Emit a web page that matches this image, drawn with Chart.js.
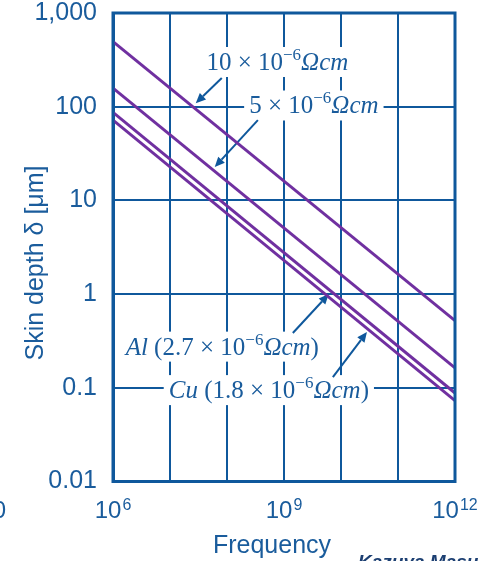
<!DOCTYPE html>
<html>
<head>
<meta charset="utf-8">
<script src="https://cdn.jsdelivr.net/npm/chart.js@4"></script>
<style>
  body { margin: 0; background: #fff; }
  #wrap { width: 499px; height: 561px; position: relative; }
</style>
</head>
<body>
<div id="wrap"><canvas id="skinChart"></canvas></div>
<script>
/* ---------------- DATA ---------------- */
// frequency (Hz) at the two ends of each line
const freqs = [1e6, 1e12];
// skin depth in um read at 1 MHz and 1 THz
const rho10 = [495, 0.52];
const rho5 = [158, 0.163];
const alDepth = [87, 0.088];
const cuDepth = [72, 0.073];

const yTicks = [0.01, 0.1, 1, 10, 100, 1000];
const yTickLabels = ["0.01", "0.1", "1", "10", "100", "1,000"];
const xTicks = [1e6, 1e7, 1e8, 1e9, 1e10, 1e11, 1e12];
const xLabelExps = [6, 9, 12];
const xTitle = "Frequency";
const yTitle = "Skin depth δ [μm]";

const BLUE = "#0f589c";
const TEXT = "#1a5c9c";
const PURPLE = "#7030a0";

/* -------- ANNOTATIONS (anchored in data space) -------- */
// parts: [text, style]  n = upright, i = italic, s = superscript
const notes = [
  {
    parts: [["10 × 10", "n"], ["−6", "s"], ["Ωcm", "i"]],
    at: [7.64e8, 300],
    arrow: [[8.1e7, 202], [2.83e7, 109]]
  },
  {
    parts: [["5 × 10", "n"], ["−6", "s"], ["Ωcm", "i"]],
    at: [3.34e9, 103],
    arrow: [[3.48e8, 72], [6.1e7, 22.7]]
  },
  {
    parts: [["Al", "i"], [" (2.7 × 10", "n"], ["−6", "s"], ["Ωcm", "i"], [")", "n"]],
    at: [8.27e7, 0.275],
    arrow: [[1.43e9, 0.384], [6.1e9, 1.0]]
  },
  {
    parts: [["Cu", "i"], [" (1.8 × 10", "n"], ["−6", "s"], ["Ωcm", "i"], [")", "n"]],
    at: [5.42e8, 0.0945],
    arrow: [[7.2e9, 0.130], [2.85e10, 0.393]]
  }
];

function noteFont(style) {
  if (style === "i") return 'italic 25px "Liberation Serif"';
  if (style === "s") return '17px "Liberation Serif"';
  return '25px "Liberation Serif"';
}

function drawArrow(ctx, x1, y1, x2, y2) {
  const ang = Math.atan2(y2 - y1, x2 - x1);
  const len = 10, half = 4.5;
  const bx = x2 - Math.cos(ang) * len;
  const by = y2 - Math.sin(ang) * len;
  ctx.beginPath();
  ctx.moveTo(x1, y1);
  ctx.lineTo(bx, by);
  ctx.stroke();
  ctx.beginPath();
  ctx.moveTo(x2, y2);
  ctx.lineTo(bx - Math.sin(ang) * half, by + Math.cos(ang) * half);
  ctx.lineTo(bx + Math.sin(ang) * half, by - Math.cos(ang) * half);
  ctx.closePath();
  ctx.fill();
}

const notesPlugin = {
  id: "notes",
  beforeDatasetsDraw(chart) {
    const ctx = chart.ctx;
    const xs = chart.scales.x, ys = chart.scales.y;
    ctx.save();
    notes.forEach(n => {
      const cx = xs.getPixelForValue(n.at[0]);
      const cy = ys.getPixelForValue(n.at[1]);
      let w = 0;
      n.parts.forEach(p => { ctx.font = noteFont(p[1]); w += ctx.measureText(p[0]).width; });
      ctx.fillStyle = "#fff";
      ctx.fillRect(cx - w / 2 - 5, cy - 15, w + 10, 30);

      ctx.fillStyle = TEXT;
      ctx.textBaseline = "alphabetic";
      ctx.textAlign = "left";
      let x = cx - w / 2;
      const base = cy + 8;
      n.parts.forEach(p => {
        ctx.font = noteFont(p[1]);
        ctx.fillText(p[0], x, p[1] === "s" ? base - 10 : base);
        x += ctx.measureText(p[0]).width;
      });

      ctx.strokeStyle = BLUE;
      ctx.fillStyle = BLUE;
      ctx.lineWidth = 2;
      const a = n.arrow;
      drawArrow(ctx,
        xs.getPixelForValue(a[0][0]), ys.getPixelForValue(a[0][1]),
        xs.getPixelForValue(a[1][0]), ys.getPixelForValue(a[1][1]));
    });
    ctx.restore();
  },
  afterDraw(chart) {
    const ctx = chart.ctx;
    const area = chart.chartArea;
    const xs = chart.scales.x;
    ctx.save();
    // frame
    ctx.strokeStyle = BLUE;
    ctx.lineWidth = 3;
    ctx.strokeRect(area.left, area.top, area.right - area.left, area.bottom - area.top);

    // x tick labels 10^n
    ctx.fillStyle = TEXT;
    ctx.textBaseline = "alphabetic";
    ctx.textAlign = "left";
    xLabelExps.forEach(e => {
      const px = xs.getPixelForValue(Math.pow(10, e));
      ctx.font = '24px "Liberation Sans"';
      const w1 = ctx.measureText("10").width;
      ctx.font = '16px "Liberation Sans"';
      const w2 = ctx.measureText(String(e)).width;
      const x0 = px - (w1 + w2 + 1) / 2;
      ctx.font = '24px "Liberation Sans"';
      ctx.fillText("10", x0, 518);
      ctx.font = '16px "Liberation Sans"';
      ctx.fillText(String(e), x0 + w1 + 1, 510);
    });

    // axis titles
    ctx.font = '25px "Liberation Sans"';
    ctx.textAlign = "center";
    ctx.fillText(xTitle, 272, 553);
    ctx.save();
    ctx.translate(43, 263);
    ctx.rotate(-Math.PI / 2);
    ctx.fillText(yTitle, 0, 0);
    ctx.restore();

    // leftover pieces cut by the original crop
    ctx.font = '24px "Liberation Sans"';
    ctx.textAlign = "right";
    ctx.fillText("0", 6, 518);
    ctx.textAlign = "left";
    ctx.fillStyle = "#1c3f72";
    ctx.font = 'italic bold 19px "Liberation Sans"';
    ctx.fillText("Kazuya Masu", 358, 568);
    ctx.restore();
  }
};

/* ---------------- CHART ---------------- */
const series = [rho10, rho5, alDepth, cuDepth];

new Chart(document.getElementById("skinChart"), {
  type: "line",
  data: {
    datasets: series.map(s => ({
      data: freqs.map((f, i) => ({ x: f, y: s[i] })),
      borderColor: PURPLE,
      borderWidth: 3,
      pointRadius: 0,
      fill: false,
      tension: 0
    }))
  },
  options: {
    responsive: true,
    maintainAspectRatio: false,
    animation: false,
    layout: { padding: { top: 13, right: 44, left: 0, bottom: 0 } },
    plugins: {
      legend: { display: false },
      tooltip: { enabled: false }
    },
    scales: {
      x: {
        type: "logarithmic",
        min: 1e6,
        max: 1e12,
        afterBuildTicks: s => { s.ticks = xTicks.map(v => ({ value: v })); },
        afterFit: s => { s.height = 79.5; s.paddingLeft = 0; s.paddingRight = 0; },
        ticks: { display: false },
        grid: { color: BLUE, lineWidth: 2, drawTicks: false },
        border: { color: BLUE, width: 3 }
      },
      y: {
        type: "logarithmic",
        min: 0.01,
        max: 1000,
        afterBuildTicks: s => { s.ticks = yTicks.map(v => ({ value: v })); },
        afterFit: s => { s.width = 113; s.paddingTop = 0; s.paddingBottom = 0; },
        ticks: {
          autoSkip: false,
          padding: 16,
          color: TEXT,
          font: { family: "Liberation Sans", size: 25 },
          callback: v => yTickLabels[yTicks.indexOf(v)]
        },
        grid: { color: BLUE, lineWidth: 2, drawTicks: false },
        border: { color: BLUE, width: 3 }
      }
    }
  },
  plugins: [notesPlugin]
});
</script>
</body>
</html>
